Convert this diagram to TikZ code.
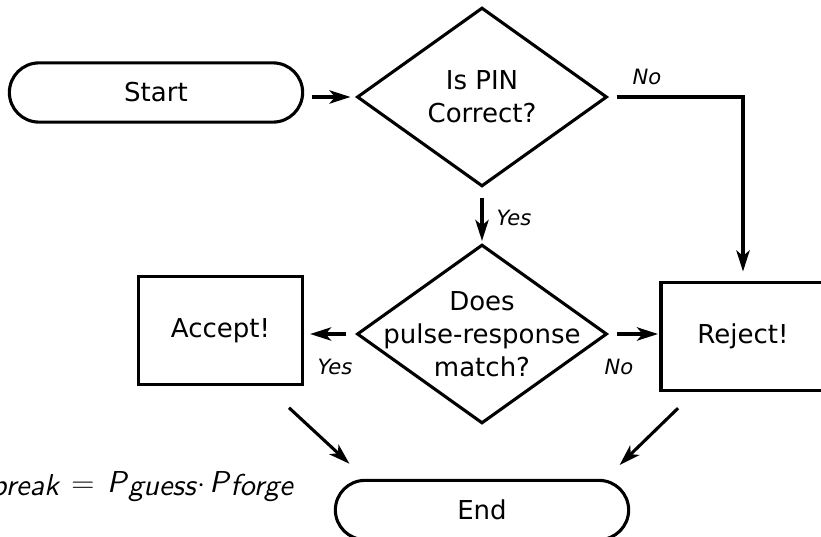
\documentclass[tikz,border=0pt]{standalone}
\usepackage{graphicx}
\usepackage{fontspec}
\setmainfont{DejaVu Sans}
\newfontfamily\formulafont{lmsans10-oblique.otf}
\usetikzlibrary{shapes.geometric, shapes.misc, arrows.meta}

% lowered subscript of the probability formula
\newcommand{\probsub}[1]{\kern1.2pt\raisebox{-2.5pt}{#1}}

\begin{document}
\begin{tikzpicture}[x=0.025cm, y=-0.025cm,
    font=\fontsize{18.5pt}{23.5pt}\selectfont,
    terminal/.style={draw, line width=2.2pt, rounded rectangle, inner sep=0pt,
        minimum width=7.33cm, minimum height=1.48cm},
    outcome/.style={draw, line width=2.2pt, rectangle, inner sep=0pt,
        minimum width=4.1cm, minimum height=2.68cm},
    decision/.style={draw, line width=2.2pt, diamond, inner sep=0pt,
        minimum width=6.25cm, minimum height=4.47cm},
    flow/.style={line width=2.2pt, -{Stealth[length=15pt, width=9.5pt, inset=4pt]}},
    answer/.style={font=\fontsize{15pt}{18pt}\selectfont\itshape}]
    \useasboundingbox (0,0) rectangle (821,537);

    % ==========================================
    % Blocks
    % ==========================================
    \node[terminal] (start) at (156,92.5) {Start};
    \node[decision, label={[align=center]center:Is PIN\\Correct?}] (pin) at (482,97) {};
    \node[decision, label={[align=center]center:Does\\pulse-response\\match?}] (pulse) at (482,334) {};
    \node[outcome] (accept) at (220.5,330.5) {Accept!};
    \node[outcome] (reject) at (743,336.5) {Reject!};
    \node[terminal] (end) at (482,510) {End};

    % Success probability of an attacker
    \node[anchor=base east, inner sep=0pt, font=\fontsize{21.5pt}{25pt}\formulafont] (prob) at (293,492)
        {P\probsub{break}\hspace{9pt}\scalebox{1.1}[1]{$=$}\hspace{9pt}P\probsub{guess}\kern1.5pt$\cdot$\kern2.5pt P\probsub{forge}};

    % ==========================================
    % Connectors
    % ==========================================
    \draw[flow, shorten <=5.7pt, shorten >=3.5pt] (start.east |- pin.west) -- (pin.west);
    \draw[flow, shorten <=5.7pt, shorten >=7pt] (pin.east) -| (reject.north);
    \draw[flow, shorten <=7pt, shorten >=1.5pt] (pin.south) -- (pulse.north);
    \draw[flow, shorten <=6.4pt, shorten >=4.3pt] (pulse.west) -- (accept.east |- pulse.west);
    \draw[flow, shorten <=5.7pt, shorten >=1pt] (pulse.east) -- (reject.west |- pulse.east);
    \draw[flow, shorten <=23.1pt, shorten >=15.8pt] (accept.-51.5) -- (end.165);
    \draw[flow, shorten <=16.9pt, shorten >=14.7pt] (reject.-131) -- (end.14.5);

    % Answers on the branches
    \node[answer] (pinno) at (647,77) {No};
    \node[answer] (pinyes) at (514,218) {Yes};
    \node[answer] (pulseyes) at (335,367) {Yes};
    \node[answer] (pulseno) at (619,367) {No};
\end{tikzpicture}
\end{document}
